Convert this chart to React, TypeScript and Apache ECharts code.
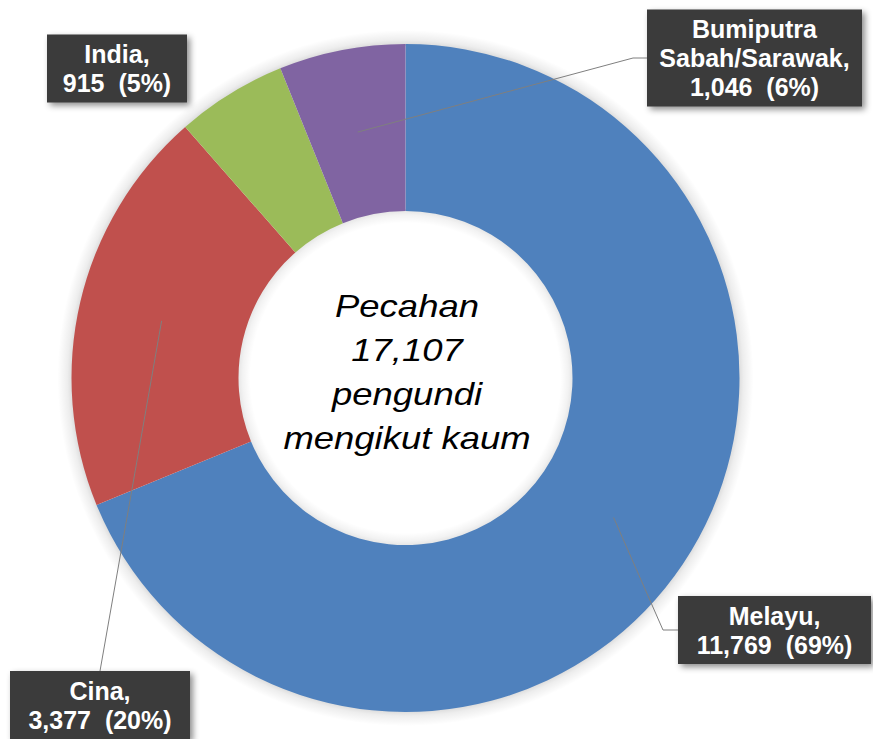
import React, { useEffect, useRef } from "react";
import * as echarts from "echarts";

// ---- data ----
const categories = ["Melayu", "Cina", "India", "Bumiputra Sabah/Sarawak"];
const voters = [11769, 3377, 915, 1046];
const colors = ["#4F81BD", "#C0504D", "#9BBB59", "#8064A2"];
const centerTitle = ["Pecahan", "pengundi", "mengikut kaum"];

// ---- layout (not data) ----
const CX = 405.5;
const CY = 378;
const R_OUT = 334;
const R_IN = 167;
const HALO_OUT = 14;
const HALO_IN = 12;
const boxCenters = [
  [774.5, 630],
  [100, 705],
  [117, 68.5],
  [754.5, 58],
];
const boxWidths = [193, 180, 140, 215];
// leader line elbows (label side), null => no line
const lineEnds: (number[][] | null)[] = [
  [[663, 630], [678, 630]],
  [[100, 671]],
  null,
  [[633, 58], [647, 58]],
];

const fmt = (n: number) => n.toLocaleString("en-US");

export default function App() {
  const ref = useRef<HTMLDivElement>(null);

  useEffect(() => {
    if (!ref.current) return;
    const chart = echarts.init(ref.current, null, { renderer: "svg" });
    const total = voters.reduce((a, b) => a + b, 0);

    // mid-angle anchor of each slice at mid radius
    const rMid = (R_IN + R_OUT) / 2;
    let cum = 0;
    const anchors = voters.map((v) => {
      const mid = (cum + v / 2) / total;
      cum += v;
      const a = mid * Math.PI * 2; // clockwise from top
      return [CX + rMid * Math.sin(a), CY - rMid * Math.cos(a)];
    });

    const data = categories.map((name, i) => ({
      name,
      value: voters[i],
      itemStyle: { color: colors[i] },
      label: { width: boxWidths[i] },
    }));

    const leaderLines = categories
      .map((_, i) => {
        const ends = lineEnds[i];
        if (!ends) return null;
        return {
          type: "polyline",
          z: 100,
          silent: true,
          shape: { points: [anchors[i], ...ends] },
          style: { stroke: "#7f7f7f", lineWidth: 1, fill: "none" },
        };
      })
      .filter(Boolean);

    const outerR = R_OUT + HALO_OUT;
    const innerR = R_IN - HALO_IN;

    chart.setOption({
      animation: false,
      backgroundColor: "#ffffff",
      graphic: [
        ...leaderLines,
        {
          type: "text",
          x: 407,
          y: 372,
          scaleX: 1.14,
          z: 100,
          style: {
            text: [centerTitle[0], fmt(total), centerTitle[1], centerTitle[2]].join("\n"),
            font: 'italic 32px "Liberation Sans", Arial, sans-serif',
            fill: "#000000",
            align: "center",
            verticalAlign: "middle",
            lineHeight: 44,
          },
        },
      ],
      series: [
        // soft outer halo
        {
          type: "pie",
          silent: true,
          z: 1,
          center: [CX, CY],
          radius: [R_OUT - 2, outerR],
          data: [
            {
              value: 1,
              itemStyle: {
                color: {
                  type: "radial",
                  x: 0.5,
                  y: 0.5,
                  r: 0.5,
                  colorStops: [
                    { offset: (R_OUT - 2) / outerR, color: "rgba(0,0,0,0.16)" },
                    { offset: (R_OUT + 4) / outerR, color: "rgba(0,0,0,0.07)" },
                    { offset: 1, color: "rgba(0,0,0,0)" },
                  ],
                },
              },
            },
          ],
          label: { show: false },
          labelLine: { show: false },
        },
        // soft inner halo
        {
          type: "pie",
          silent: true,
          z: 1,
          center: [CX, CY],
          radius: [0, R_IN + 2],
          data: [
            {
              value: 1,
              itemStyle: {
                color: {
                  type: "radial",
                  x: 0.5,
                  y: 0.5,
                  r: 0.5,
                  colorStops: [
                    { offset: 0, color: "rgba(0,0,0,0)" },
                    { offset: innerR / (R_IN + 2), color: "rgba(0,0,0,0)" },
                    { offset: (R_IN - 4) / (R_IN + 2), color: "rgba(0,0,0,0.05)" },
                    { offset: 1, color: "rgba(0,0,0,0.12)" },
                  ],
                },
              },
            },
          ],
          label: { show: false },
          labelLine: { show: false },
        },
        {
          type: "pie",
          z: 2,
          center: [CX, CY],
          radius: [R_IN, R_OUT],
          startAngle: 90,
          clockwise: true,
          avoidLabelOverlap: false,
          data,
          label: {
            show: true,
            position: "outside",
            formatter: (p: any) => {
              const pct = Math.round((p.value / total) * 100);
              return `${p.name.replace(" ", "\n")},\n${fmt(p.value)}  (${pct}%)`;
            },
            color: "#ffffff",
            fontFamily: '"Liberation Sans", Arial, sans-serif',
            fontWeight: "bold",
            fontSize: 25,
            lineHeight: 29,
            align: "center",
            backgroundColor: "#3b3b3b",
            padding: [5, 0],
            shadowColor: "rgba(0,0,0,0.45)",
            shadowBlur: 6,
            shadowOffsetX: 3,
            shadowOffsetY: 3,
          },
          labelLine: { show: false },
          labelLayout: (params: any) => {
            const i = params.dataIndex;
            return {
              x: boxCenters[i][0],
              y: boxCenters[i][1],
              align: "center",
              verticalAlign: "middle",
            };
          },
          emphasis: { disabled: true },
        },
      ],
    });

    return () => chart.dispose();
  }, []);

  return (
    <div
      ref={ref}
      style={{ position: "fixed", left: 0, top: 0, width: 873, height: 739 }}
    />
  );
}
